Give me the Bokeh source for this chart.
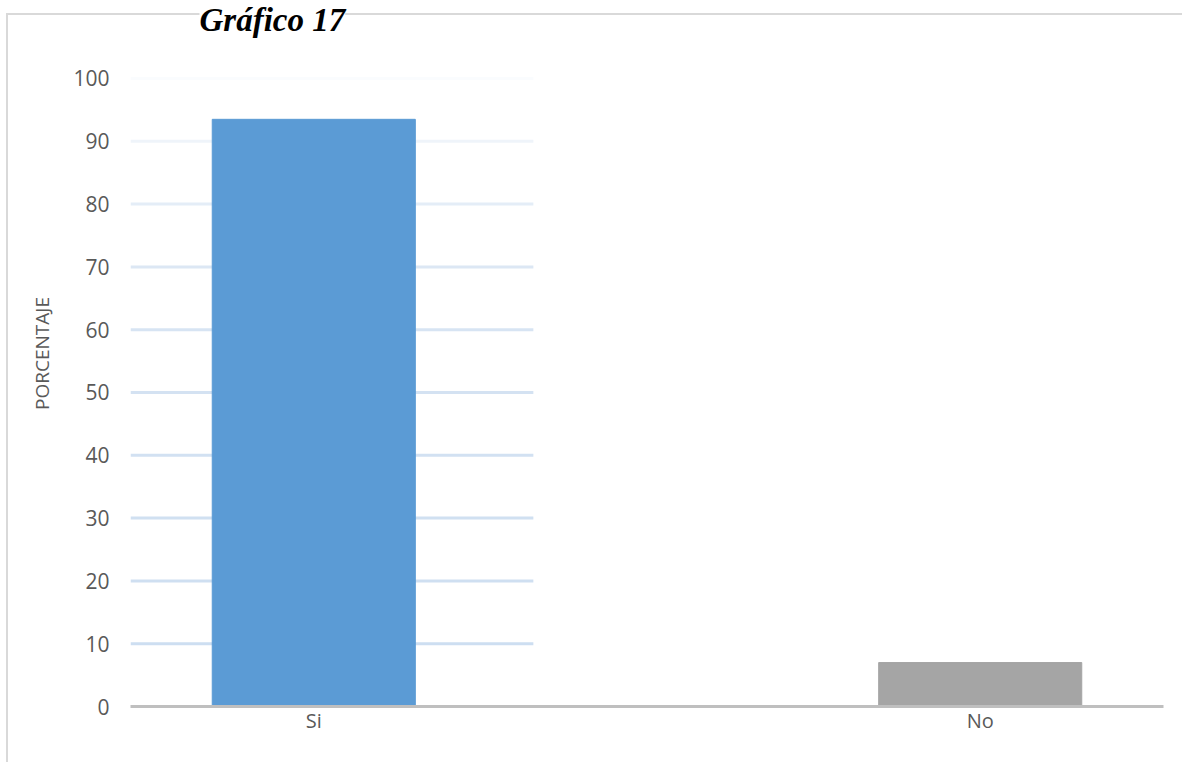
from bokeh.plotting import figure
from bokeh.models import (FactorRange, Range1d, FixedTicker, Label,
                          ColumnDataSource, LinearColorMapper)
from bokeh.transform import dodge, transform
from bokeh.embed import file_html
from bokeh.resources import INLINE

# ---- data ----
categories = ["Si", "No"]
percentages = [93.5, 7.0]
bar_colors = ["#5B9BD5", "#A5A5A5"]
y_ticks = [0, 10, 20, 30, 40, 50, 60, 70, 80, 90, 100]
grid_levels = [10, 20, 30, 40, 50, 60, 70, 80, 90, 100]
title_text = "Gráfico 17"
y_label = "PORCENTAJE"

FONT = "Open Sans"
TXT = "#595959"

x_range = FactorRange(factors=categories, factor_padding=0.818, range_padding=0)
p = figure(x_range=x_range, y_range=Range1d(0, 112.42),
           width=1182, height=762, output_backend="svg",
           toolbar_location=None,
           min_border_left=130, min_border_right=19,
           min_border_top=0, min_border_bottom=56)

p.border_fill_color = None
p.background_fill_color = None
p.outline_line_color = None
p.styles = {
    "background": "linear-gradient(#d9d9d9,#d9d9d9) 6px 13px / 100% 2px no-repeat, "
                  "linear-gradient(#d9d9d9,#d9d9d9) 6px 13px / 2px 100% no-repeat"
}

p.xgrid.visible = False
p.ygrid.visible = False

# partial horizontal grid lines (only on the left part, as in the reference)
grid_src = ColumnDataSource(dict(cat=[categories[0]] * len(grid_levels),
                                 y=grid_levels))
grid_mapper = LinearColorMapper(
    palette=["#cddef1", "#cfdff1", "#d0e0f1", "#d2e1f2", "#d4e2f2",
             "#d7e4f3", "#dce7f4", "#e4edf7", "#eff4fa", "#fafcfe"],
    low=5, high=105)
p.segment(x0=dodge("cat", -0.5, range=x_range), y0="y",
          x1=dodge("cat", 0.599, range=x_range), y1="y",
          source=grid_src, line_width=3,
          line_color=transform("y", grid_mapper))

bar_src = ColumnDataSource(dict(cat=categories, val=percentages, color=bar_colors))
p.vbar(x="cat", top="val", width=0.554, color="color", source=bar_src)

# y axis
p.yaxis.ticker = FixedTicker(ticks=y_ticks)
p.yaxis.axis_line_color = None
p.yaxis.major_tick_line_color = None
p.yaxis.minor_tick_line_color = None
p.yaxis.major_tick_out = 0
p.yaxis.major_label_standoff = 21
p.yaxis.major_label_text_font = FONT
p.yaxis.major_label_text_font_size = "21px"
p.yaxis.major_label_text_color = TXT
p.yaxis.axis_label = y_label
p.yaxis.axis_label_text_font = FONT
p.yaxis.axis_label_text_font_size = "19px"
p.yaxis.axis_label_text_font_style = "normal"
p.yaxis.axis_label_text_color = TXT
p.yaxis.axis_label_standoff = 15

# x axis
p.xaxis.axis_line_color = "#BFBFBF"
p.xaxis.axis_line_width = 3
p.xaxis.major_tick_line_color = None
p.xaxis.minor_tick_line_color = None
p.xaxis.major_tick_out = 0
p.xaxis.major_label_standoff = 0
p.xaxis.major_label_text_font = FONT
p.xaxis.major_label_text_font_size = "20px"
p.xaxis.major_label_text_color = TXT

# title
p.add_layout(Label(x=69, y=687, x_units="screen", y_units="screen",
                   text=title_text, text_font="Liberation Serif",
                   text_font_style="bold italic", text_font_size="33px",
                   text_color="black", text_baseline="alphabetic",
                   background_fill_color="white"))

open("out.html", "w").write(file_html(p, INLINE))
